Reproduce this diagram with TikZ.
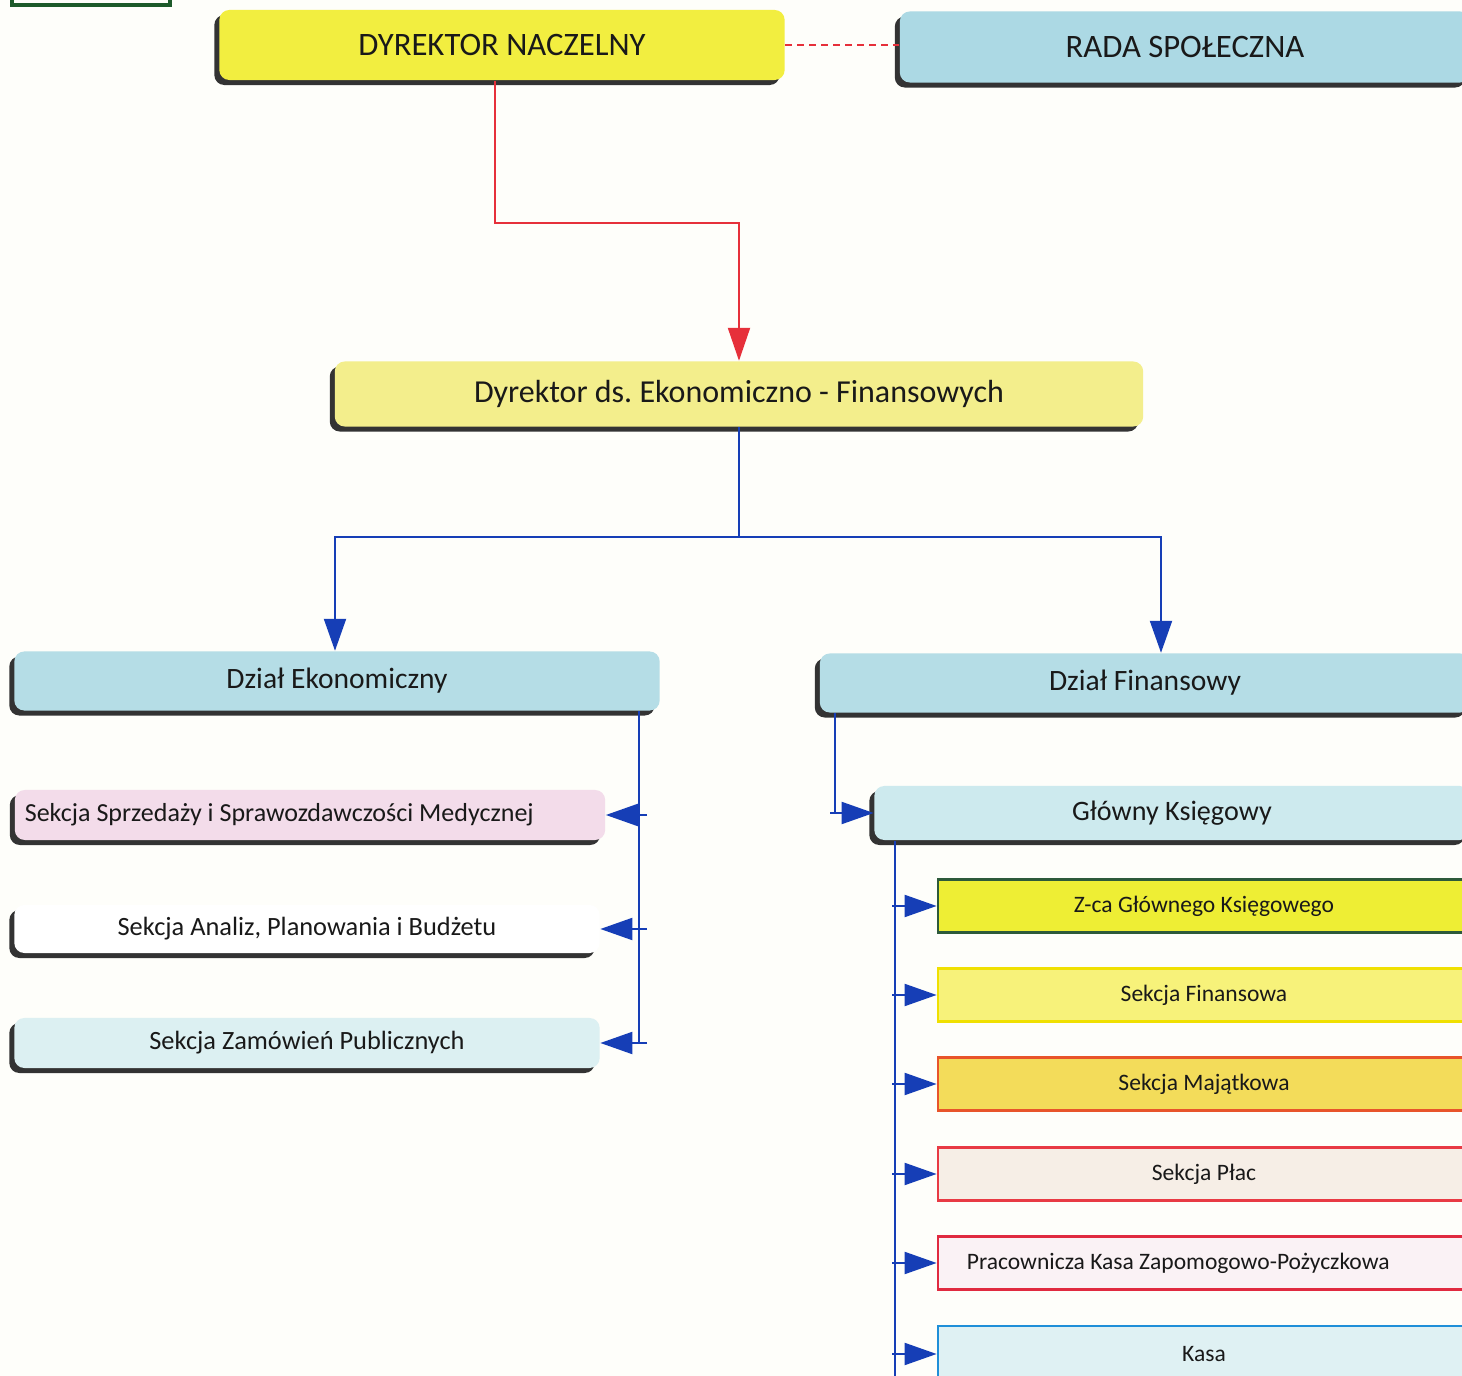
\documentclass[tikz,border=0pt]{standalone}
\usepackage{fontspec}
\setmainfont{Carlito}
\usepackage{tikz}
\usetikzlibrary{arrows.meta,shadows}
\definecolor{bgpaper}{RGB}{254,254,250}
\definecolor{ylwtop}{RGB}{242,238,64}
\definecolor{ylwsub}{RGB}{243,238,140}
\definecolor{bluetop}{RGB}{172,217,228}
\definecolor{bluedept}{RGB}{181,221,230}
\definecolor{bluechief}{RGB}{205,234,238}
\definecolor{bluelight}{RGB}{220,240,242}
\definecolor{pinksec}{RGB}{243,220,234}
\definecolor{linered}{RGB}{230,48,58}
\definecolor{lineblue}{RGB}{22,62,182}
\definecolor{framegreen}{RGB}{29,90,42}
\definecolor{zcafill}{RGB}{238,238,52}
\definecolor{zcadraw}{RGB}{45,90,58}
\definecolor{finfill}{RGB}{247,242,122}
\definecolor{findraw}{RGB}{240,224,0}
\definecolor{majfill}{RGB}{243,220,90}
\definecolor{majdraw}{RGB}{232,84,42}
\definecolor{placfill}{RGB}{246,238,230}
\definecolor{placdraw}{RGB}{232,58,68}
\definecolor{kzpfill}{RGB}{250,242,245}
\definecolor{kzpdraw}{RGB}{224,42,64}
\definecolor{kasafill}{RGB}{223,241,243}
\definecolor{kasadraw}{RGB}{31,143,216}
\frenchspacing

\begin{document}
\begin{tikzpicture}[x=0.01cm, y=-0.01cm,
		chief/.style={rectangle, rounded corners=1mm, inner sep=0pt, text=black!90,
			drop shadow={shadow xshift=-0.5mm, shadow yshift=-0.5mm, fill=black!80, opacity=1}},
		sect/.style={rectangle, draw, line width=0.7pt, inner sep=0pt, text=black!90,
			minimum width=5.32cm, minimum height=0.53cm, font=\fontsize{6.7}{8}\selectfont},
		redcon/.style={draw=linered, line width=0.6pt, -{Triangle[length=3.3mm, width=2.2mm]}},
		bluecon/.style={draw=lineblue, line width=0.6pt},
		barrow/.style={bluecon, -{Triangle[length=3.2mm, width=2.2mm]}}]
		\useasboundingbox (0,0) rectangle (1462,1376);
		\fill[bgpaper] (0,0) rectangle (1462,1376);
		\clip (0,0) rectangle (1462,1376);
		\draw[framegreen, line width=1.1pt] (12,-20) rectangle (170,5);
		
		\node[chief, fill=ylwtop, minimum width=5.65cm, minimum height=0.70cm, font=\fontsize{9.3}{11}\selectfont] (dn) at (502,45) {DYREKTOR NACZELNY};
		\node[chief, fill=bluetop, minimum width=5.70cm, minimum height=0.71cm, font=\fontsize{9.3}{11}\selectfont] (rada) at (1185,47) {RADA SPOŁECZNA};
		\node[chief, fill=ylwsub, minimum width=8.08cm, minimum height=0.65cm, font=\fontsize{9.1}{11}\selectfont] (dek) at (739,394) {Dyrektor ds. Ekonomiczno - Finansowych};
		\node[chief, fill=bluedept, minimum width=6.45cm, minimum height=0.59cm, font=\fontsize{8.4}{10}\selectfont] (dzek) at (337,681) {Dział Ekonomiczny};
		\node[chief, fill=bluedept, minimum width=6.50cm, minimum height=0.59cm, font=\fontsize{8.4}{10}\selectfont] (dzfin) at (1145,683) {Dział Finansowy};
		
		\node[chief, fill=pinksec, minimum width=5.90cm, minimum height=0.50cm, text width=5.70cm, align=flush left, inner xsep=0.10cm, font=\fontsize{7.4}{9}\selectfont] (spr) at (310,815) {Sekcja Sprzedaży i Sprawozdawczości Medycznej};
		\node[chief, fill=white, minimum width=5.85cm, minimum height=0.48cm, font=\fontsize{7.5}{9}\selectfont] (anal) at (307,929) {Sekcja Analiz, Planowania i Budżetu};
		\node[chief, fill=bluelight, minimum width=5.85cm, minimum height=0.50cm, font=\fontsize{7.5}{9}\selectfont] (zam) at (307,1043) {Sekcja Zamówień Publicznych};
		\node[chief, fill=bluechief, minimum width=5.95cm, minimum height=0.54cm, font=\fontsize{8.0}{10}\selectfont] (glk) at (1172,813) {Główny Księgowy};
		
		\node[sect, fill=zcafill, draw=zcadraw] (zca) at (1204,906) {Z-ca Głównego Księgowego};
		\node[sect, fill=finfill, draw=findraw] (sfin) at (1204,995) {Sekcja Finansowa};
		\node[sect, fill=majfill, draw=majdraw] (smaj) at (1204,1084) {Sekcja Majątkowa};
		\node[sect, fill=placfill, draw=placdraw] (splac) at (1204,1174) {Sekcja Płac};
		\node[sect, fill=kzpfill, draw=kzpdraw, text width=4.74cm, align=flush left, inner xsep=0.29cm] (pkzp) at (1204,1263) {Pracownicza Kasa Zapomogowo-Pożyczkowa};
		\node[sect, fill=kasafill, draw=kasadraw, minimum height=0.56cm] (kasa) at (1204,1354) {Kasa};
		
		% naczelny -> ekonomiczno-finansowy
		\draw[redcon] ([xshift=-0.07cm]dn.south) -- ++(0,142) -| (dek.north);
		\draw[linered, line width=0.6pt, dash pattern=on 0.07cm off 0.05cm] (dn.east) -- (dn.east -| rada.west);
		
		% dzialy
		\draw[bluecon] (dek.south) -- ++(0,110) coordinate (split);
		\draw[barrow] (split) -| ([xshift=-0.02cm]dzek.north);
		\draw[barrow] (split) -| ([xshift=0.16cm]dzfin.north);
		
		% dzial ekonomiczny
		\coordinate (ltop) at ([xshift=-0.21cm]dzek.south east);
		\draw[bluecon] (ltop) -- (ltop |- zam.east);
		\coordinate (l1) at (647,815);
		\coordinate (l2) at (647,929);
		\coordinate (l3) at (647,1043);
		\path (l1) edge[barrow] (spr);
		\path (l2) edge[barrow] (anal);
		\path (l3) edge[barrow] (zam);
		
		% dzial finansowy
		\coordinate (rtop) at ([xshift=0.16cm]dzfin.south west);
		\draw[bluecon] (rtop) -- (rtop |- glk.west) -- ([xshift=-0.05cm]rtop |- glk.west);
		\path (rtop |- glk.west) edge[barrow] (glk);
		\coordinate (gtop) at ([xshift=0.21cm]glk.south west);
		\draw[bluecon] (gtop) -- (gtop |- 0,1380);
		\coordinate (r1) at (892,906);
		\coordinate (r2) at (892,995);
		\coordinate (r3) at (892,1084);
		\coordinate (r4) at (892,1174);
		\coordinate (r5) at (892,1263);
		\coordinate (r6) at (892,1354);
		\path (r1) edge[barrow] (zca);
		\path (r2) edge[barrow] (sfin);
		\path (r3) edge[barrow] (smaj);
		\path (r4) edge[barrow] (splac);
		\path (r5) edge[barrow] (pkzp);
		\path (r6) edge[barrow] (kasa);
	\end{tikzpicture}
\end{document}
